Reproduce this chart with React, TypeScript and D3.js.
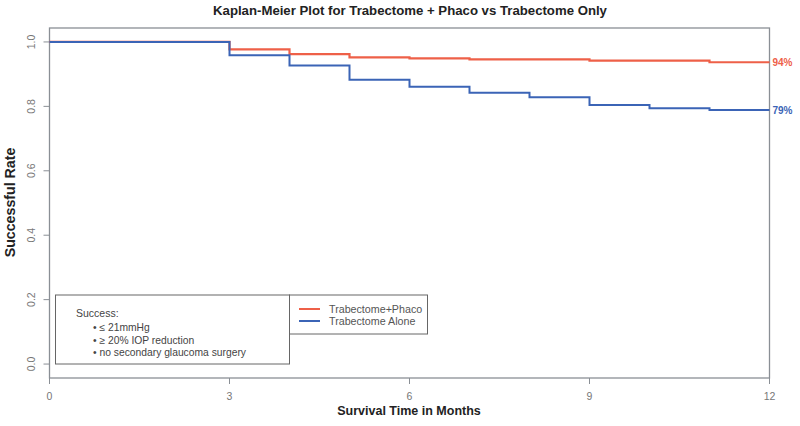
import React from "react";
import * as d3 from "d3";

const phacoTimes = [0, 3, 4, 5, 6, 7, 9, 11, 12];
const phacoSurv = [1.0, 0.977, 0.962, 0.952, 0.949, 0.946, 0.942, 0.937, 0.937];
const aloneTimes = [0, 3, 4, 5, 6, 7, 8, 9, 10, 11, 12];
const aloneSurv = [1.0, 0.959, 0.927, 0.883, 0.861, 0.842, 0.828, 0.804, 0.794, 0.789, 0.789];
const xTicks = [0, 3, 6, 9, 12];
const yTicks = [0.0, 0.2, 0.4, 0.6, 0.8, 1.0];
const seriesNames = ["Trabectome+Phaco", "Trabectome Alone"];
const endLabels = ["94%", "79%"];
const successCriteria = ["• ≤ 21mmHg", "• ≥ 20% IOP reduction", "• no secondary glaucoma surgery"];

const RED = "#ee6048";
const BLUE = "#3b64b6";
const AXIS = "#8a8f95";
const FONT = "Liberation Sans, Arial, sans-serif";

export default function App() {
  const W = 800, H = 426;
  const left = 49.5, right = 769.5, top = 28, bottom = 378;
  const x = d3.scaleLinear().domain([0, 12]).range([left, right]);
  const y = d3.scaleLinear().domain([-0.0433, 1.0433]).range([bottom, top]);
  const line = d3.line<[number, number]>().x(d => x(d[0])).y(d => y(d[1])).curve(d3.curveStepAfter);
  const redPts: [number, number][] = phacoTimes.map((t, i) => [t, phacoSurv[i]]);
  const bluePts: [number, number][] = aloneTimes.map((t, i) => [t, aloneSurv[i]]);

  return (
    <svg width={W} height={H} style={{ display: "block", position: "absolute", left: 0, top: 0 }} fontFamily={FONT}>
      <rect width={W} height={H} fill="#fff" />
      <text x={410} y={15} textAnchor="middle" fontSize={13.2} fontWeight="bold" fill="#222">
        Kaplan-Meier Plot for Trabectome + Phaco vs Trabectome Only
      </text>
      <rect x={left} y={top} width={right - left} height={bottom - top} fill="none" stroke={AXIS} strokeWidth={1.3} />
      {yTicks.map(v => (
        <g key={v}>
          <line x1={left - 6} x2={left} y1={y(v)} y2={y(v)} stroke={AXIS} strokeWidth={1} />
          <text transform={`translate(${left - 15},${y(v)}) rotate(-90)`} textAnchor="middle" fontSize={10.5} fill="#777">
            {v.toFixed(1)}
          </text>
        </g>
      ))}
      {xTicks.map(v => (
        <g key={v}>
          <line x1={x(v)} x2={x(v)} y1={bottom} y2={bottom + 6} stroke={AXIS} strokeWidth={1} />
          <text x={x(v)} y={bottom + 22} textAnchor="middle" fontSize={10.5} fill="#777">
            {v}
          </text>
        </g>
      ))}
      <text x={409} y={415} textAnchor="middle" fontSize={12.5} fontWeight="bold" fill="#222">
        Survival Time in Months
      </text>
      <text transform={`translate(15,${202.5}) rotate(-90)`} textAnchor="middle" fontSize={14.2} fontWeight="bold" fill="#222">
        Successful Rate
      </text>
      <path d={line(redPts) || ""} fill="none" stroke={RED} strokeWidth={2.2} />
      <path d={line(bluePts) || ""} fill="none" stroke={BLUE} strokeWidth={2} />
      <text x={right + 3} y={y(phacoSurv[phacoSurv.length - 1]) + 4} fontSize={10} fontWeight="bold" fill={RED}>
        {endLabels[0]}
      </text>
      <text x={right + 3} y={y(aloneSurv[aloneSurv.length - 1]) + 4} fontSize={10} fontWeight="bold" fill={BLUE}>
        {endLabels[1]}
      </text>
      {/* criteria box */}
      <rect x={55.5} y={295} width={234} height={69} fill="#fff" stroke="#666" strokeWidth={1} />
      <text x={76} y={317} fontSize={10.5} fill="#444">Success:</text>
      {successCriteria.map((s, i) => (
        <text key={s} x={93} y={331 + i * 12.5} fontSize={10.3} fill="#444">{s}</text>
      ))}
      {/* series legend */}
      <rect x={289.5} y={295} width={138} height={39} fill="#fff" stroke="#666" strokeWidth={1} />
      {seriesNames.map((s, i) => (
        <g key={s}>
          <line x1={299} x2={320} y1={309 + i * 12} y2={309 + i * 12} stroke={i === 0 ? RED : BLUE} strokeWidth={2} />
          <text x={329} y={313 + i * 12} fontSize={10.7} fill="#555">{s}</text>
        </g>
      ))}
    </svg>
  );
}
